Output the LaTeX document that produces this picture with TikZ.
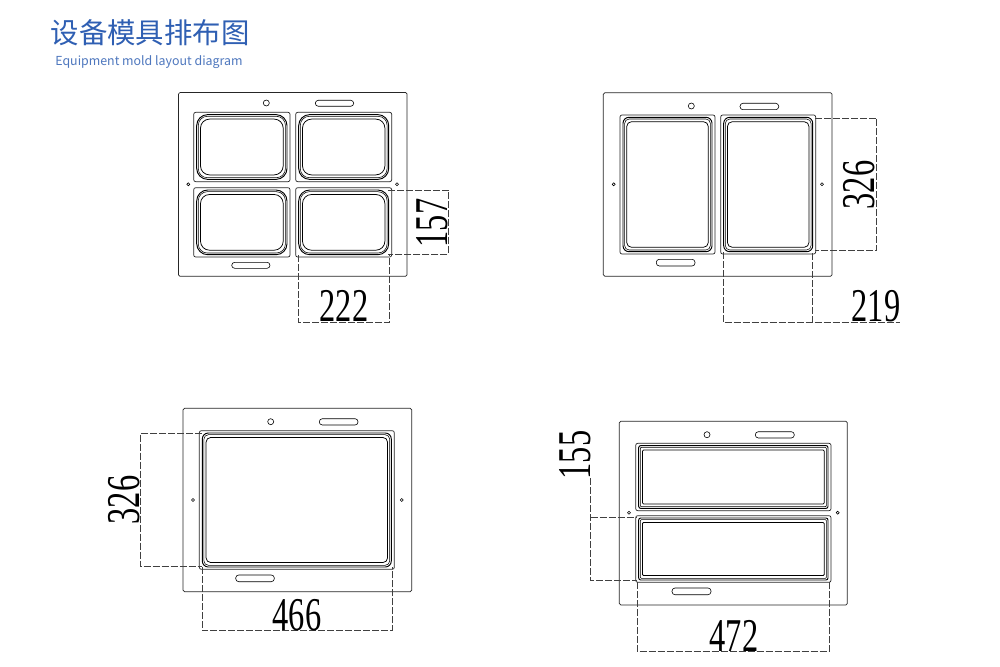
\documentclass[tikz,border=0pt]{standalone}
\usepackage{graphicx}
\usepackage{fontspec}
\setmainfont{Liberation Serif}
\newfontfamily\cjkfont{Noto Sans CJK SC}
\definecolor{titleblue}{HTML}{2F5FB3}
\newcommand{\dimtext}[1]{\scalebox{.69}[1]{\fontsize{47}{47}\selectfont #1}}
\tikzset{
  x=1pt,y=-1pt,
  plate/.style={draw=black!85,line width=.7pt,rounded corners=2pt},
  ringa/.style={draw=black,line width=.95pt},
  ringb/.style={draw=black,line width=.55pt},
  ringc/.style={draw=black,line width=.75pt},
  sheet/.style={draw=black!85,line width=.7pt,rounded corners=1.5pt},
  slot/.style={draw=black,line width=.6pt,rounded corners=3pt},
  bighole/.style={draw=black,line width=.6pt,circle,minimum size=6pt,inner sep=0pt},
  smallhole/.style={draw=black,line width=.6pt,circle,minimum size=3pt,inner sep=0pt},
  dimline/.style={draw=black!75,line width=.65pt,dash pattern=on 7pt off 2pt},
  dimlabel/.style={inner sep=0pt,text=black}
}
% x1 y1 x2 y2 outer-radius inner-radius
\newcommand{\cavity}[6]{
  \draw[plate] (#1,#2) rectangle (#3,#4);
  \draw[ringa,rounded corners=#5 pt] ({#1+3},{#2+2.3}) rectangle ({#3-3},{#4-2.3});
  \draw[ringb,rounded corners=#6 pt] ({#1+4.6},{#2+4}) rectangle ({#3-4.6},{#4-4});
  \draw[ringc,rounded corners=#6 pt] ({#1+6.8},{#2+6.8}) rectangle ({#3-6.8},{#4-6.8});
}
\newcommand{\slotbox}[4]{\draw[slot] (#1,#2) rectangle (#3,#4);}
\begin{document}
\begin{tikzpicture}
\useasboundingbox (0,0) rectangle (1000,666);
\fill[white] (0,0) rectangle (1000,666);
% titles
\node[anchor=center,inner sep=0pt,text=titleblue] (title) at (150,33) {\cjkfont\fontsize{28.4}{30}\selectfont 设备模具排布图};
\node[anchor=center,inner sep=0pt,text=titleblue!85] (subtitle) at (149,62) {\cjkfont\fontsize{12.4}{14}\selectfont Equipment mold layout diagram};

% Panel A
\draw[sheet] (178.5,92.5) rectangle (407,276.3);
\node[bighole] (ah) at (266.3,103) {};
\slotbox{315.3}{100.3}{353.7}{106.3}
\slotbox{231.7}{262.3}{270}{268.3}
\node[smallhole] (ahl) at (188.3,184.3) {};
\node[smallhole] (ahr) at (397,184.3) {};
\cavity{193.7}{112.3}{290}{181.7}{11}{9}
\cavity{295.7}{112.3}{391.7}{181.7}{11}{9}
\cavity{193.7}{187.7}{290}{257}{11}{9}
\cavity{295.7}{187.7}{391.7}{257}{11}{9}
\coordinate (a1) at (388,190); \coordinate (a2) at (448.7,190);
\coordinate (a3) at (448.7,254); \coordinate (a4) at (388,254);
\draw[dimline] (a1) -- (a2) -- (a3) -- (a4);
\coordinate (a5) at (298.7,255); \coordinate (a6) at (298.7,322.7);
\coordinate (a7) at (389,322.7); \coordinate (a8) at (389,255);
\draw[dimline] (a5) -- (a6) -- (a7) -- (a8);
\node[dimlabel,rotate=90] (a157) at (432,223) {\dimtext{157}};
\node[dimlabel] (a222) at (344,306) {\dimtext{222}};

% Panel B
\draw[sheet] (603.3,92.7) rectangle (832,276.3);
\node[bighole] (bh) at (691.3,106) {};
\slotbox{740}{103.3}{778.7}{109.7}
\slotbox{656.3}{259.3}{695}{266}
\node[smallhole] (bhl) at (613.7,184.3) {};
\node[smallhole] (bhr) at (822,184.3) {};
\cavity{620}{115}{715}{254}{6}{4.5}
\cavity{720.7}{115}{815.7}{254}{6}{4.5}
\coordinate (b1) at (815,118); \coordinate (b2) at (876.7,118);
\coordinate (b3) at (876.7,250.7); \coordinate (b4) at (815,250.7);
\draw[dimline] (b1) -- (b2) -- (b3) -- (b4);
\coordinate (b5) at (723.3,252); \coordinate (b6) at (723.3,322.7);
\coordinate (b7) at (900,322.7); \coordinate (b8) at (812.7,322.7); \coordinate (b9) at (812.7,252);
\draw[dimline] (b5) -- (b6) -- (b7);
\draw[dimline] (b8) -- (b9);
\node[dimlabel,rotate=90] (b326) at (859,185) {\dimtext{326}};
\node[dimlabel] (b219) at (876,306) {\dimtext{219}};

% Panel C
\draw[sheet] (183,408.3) rectangle (411.7,591.7);
\node[bighole] (ch) at (270.7,421.7) {};
\slotbox{319.3}{418.7}{358}{425}
\slotbox{235.7}{575}{274.3}{581.7}
\node[smallhole] (chl) at (193,500) {};
\node[smallhole] (chr) at (401.7,500) {};
\cavity{199.3}{430.7}{394.3}{569.3}{6}{4.5}
\coordinate (c1) at (202,433.7); \coordinate (c2) at (140,433.7);
\coordinate (c3) at (140,566); \coordinate (c4) at (202,566);
\draw[dimline] (c1) -- (c2) -- (c3) -- (c4);
\coordinate (c5) at (202,567); \coordinate (c6) at (202,630.7);
\coordinate (c7) at (392,630.7); \coordinate (c8) at (392,567);
\draw[dimline] (c5) -- (c6) -- (c7) -- (c8);
\node[dimlabel,rotate=90] (c326) at (124,500) {\dimtext{326}};
\node[dimlabel] (c466) at (297,615) {\dimtext{466}};

% Panel D
\draw[sheet] (619.3,421.3) rectangle (847.3,605);
\node[bighole] (dh) at (707,434.7) {};
\slotbox{755.3}{431.7}{794.3}{438}
\slotbox{672}{588}{711}{594.7}
\node[smallhole] (dhl) at (629,512.7) {};
\node[smallhole] (dhr) at (837.7,512.7) {};
\cavity{635.7}{443.3}{831}{510.7}{2}{1}
\cavity{635.7}{515.7}{831}{582.3}{2}{1}
\coordinate (d1) at (590.7,478); \coordinate (d2) at (590.7,580.7);
\coordinate (d3) at (637,580.7); \coordinate (d4) at (590.7,517.3); \coordinate (d5) at (637,517.3);
\draw[dimline] (d1) -- (d2) -- (d3);
\draw[dimline] (d4) -- (d5);
\coordinate (d6) at (637.3,582); \coordinate (d7) at (637.3,651.7);
\coordinate (d8) at (829.3,651.7); \coordinate (d9) at (829.3,582);
\draw[dimline] (d6) -- (d7) -- (d8) -- (d9);
\node[dimlabel,rotate=90] (d155) at (575,455) {\dimtext{155}};
\node[dimlabel] (d472) at (734,636) {\dimtext{472}};
\end{tikzpicture}
\end{document}
